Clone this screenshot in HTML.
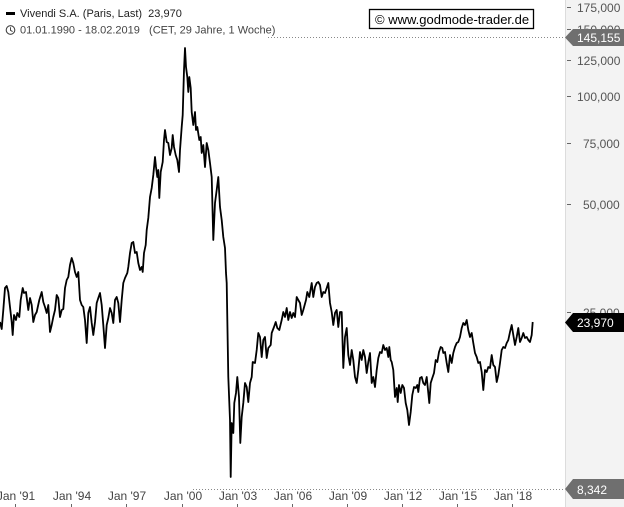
<!DOCTYPE html>
<html><head><meta charset="utf-8">
<style>
html,body{margin:0;padding:0;background:#fff;}
body{width:624px;height:507px;overflow:hidden;position:relative;font-family:"Liberation Sans",Arial,sans-serif;}
svg{position:absolute;left:0;top:0;}
</style></head>
<body>
<svg width="624" height="507" viewBox="0 0 624 507" xmlns="http://www.w3.org/2000/svg" font-family="Liberation Sans, Arial, sans-serif">
  <rect x="0" y="0" width="624" height="507" fill="#ffffff"/>
  <!-- right axis panel -->
  <rect x="565" y="0" width="59" height="507" fill="#f3f3f3"/>
  <line x1="565.5" y1="0" x2="565.5" y2="507" stroke="#dcdcdc" stroke-width="1"/>

  <!-- y ticks and labels -->
  <g stroke="#666" stroke-width="1">
    <line x1="567" y1="7.5" x2="571" y2="7.5"/>
    <line x1="567" y1="29.5" x2="571" y2="29.5"/>
    <line x1="567" y1="60.5" x2="571" y2="60.5"/>
    <line x1="567" y1="96.5" x2="571" y2="96.5"/>
    <line x1="567" y1="143.5" x2="571" y2="143.5"/>
    <line x1="567" y1="204.5" x2="571" y2="204.5"/>
    <line x1="567" y1="312.5" x2="571" y2="312.5"/>
  </g>
  <g fill="#555" font-size="12">
    <text x="577" y="12">175,000</text>
    <text x="577" y="34">150,000</text>
    <text x="577" y="65">125,000</text>
    <text x="577" y="101">100,000</text>
    <text x="583" y="148">75,000</text>
    <text x="583" y="209">50,000</text>
    <text x="583" y="317">25,000</text>
  </g>

  <!-- dotted reference lines -->
  <line x1="268" y1="37.5" x2="565" y2="37.5" stroke="#888" stroke-width="1" stroke-dasharray="1,2"/>
  <line x1="193" y1="489.5" x2="565" y2="489.5" stroke="#888" stroke-width="1" stroke-dasharray="1,2"/>

  <!-- value tags -->
  <polygon points="565,37.5 573,29 624,29 624,46 573,46" fill="#6f6f6f"/>
  <text x="577" y="42" fill="#fff" font-size="12">145,155</text>
  <polygon points="565,322.5 573,313 624,313 624,332 573,332" fill="#000"/>
  <text x="577" y="327" fill="#fff" font-size="12">23,970</text>
  <polygon points="565,489 573,479 624,479 624,499 573,499" fill="#6f6f6f"/>
  <text x="577" y="494" fill="#fff" font-size="12">8,342</text>

  <!-- x labels -->
  <g fill="#444" font-size="12" text-anchor="middle">
    <text x="16" y="500">Jan '91</text>
    <text x="72" y="500">Jan '94</text>
    <text x="127" y="500">Jan '97</text>
    <text x="183" y="500">Jan '00</text>
    <text x="238" y="500">Jan '03</text>
    <text x="293" y="500">Jan '06</text>
    <text x="348" y="500">Jan '09</text>
    <text x="403" y="500">Jan '12</text>
    <text x="458" y="500">Jan '15</text>
    <text x="513" y="500">Jan '18</text>
  </g>
  <g stroke="#666" stroke-width="1">
    <line x1="15.5" y1="504" x2="15.5" y2="507"/>
    <line x1="71.5" y1="504" x2="71.5" y2="507"/>
    <line x1="126.5" y1="504" x2="126.5" y2="507"/>
    <line x1="182.5" y1="504" x2="182.5" y2="507"/>
    <line x1="237.5" y1="504" x2="237.5" y2="507"/>
    <line x1="292.5" y1="504" x2="292.5" y2="507"/>
    <line x1="347.5" y1="504" x2="347.5" y2="507"/>
    <line x1="402.5" y1="504" x2="402.5" y2="507"/>
    <line x1="457.5" y1="504" x2="457.5" y2="507"/>
    <line x1="512.5" y1="504" x2="512.5" y2="507"/>
  </g>

  <!-- header -->
  <rect x="6" y="12" width="9" height="3" fill="#000"/>
  <text x="20" y="17" font-size="11" fill="#222" xml:space="preserve">Vivendi S.A. (Paris, Last)  23,970</text>
  <circle cx="10.5" cy="30" r="4.3" fill="none" stroke="#444" stroke-width="1.1"/>
  <polyline points="10.5,27.3 10.5,30.3 12.6,31.6" fill="none" stroke="#444" stroke-width="1"/>
  <text x="20" y="33.5" font-size="11" fill="#444" xml:space="preserve">01.01.1990 - 18.02.2019   (CET, 29 Jahre, 1 Woche)</text>

  <!-- watermark -->
  <rect x="369.5" y="9.5" width="164" height="19" fill="#fff" stroke="#000" stroke-width="1.3"/>
  <text x="375" y="24" font-size="13" fill="#000">© www.godmode-trader.de</text>

  <!-- series -->
  <polyline fill="none" stroke="#000" stroke-width="1.8" stroke-linejoin="round" points="0,322 1.7,329 3.3,310 5,288 6.7,286 8.3,292 10,307 11.7,322 12.7,335 14,315 16,320 17.3,313 19.3,317 20.7,300 22.7,288 24,293 26,292 28.3,310 30,298 31.7,305 33.3,322 35,315 36.7,312 39.3,300 41.7,292 43.3,302 45,307 46.7,313 48.3,305 50,332 51.7,325 53.3,317 55,310 56.7,295 58.3,298 60,317 61.7,310 63.3,309 65,288 66.7,280 68.3,277 70,265 71.7,258 73.3,263 75,272 76.7,277 78.3,272 80,300 81.7,305 83.3,307 85,320 86.7,343 88.3,313 90,307 91.7,323 93.3,335 95,322 96.7,303 98.3,298 100,293 101.7,305 103.3,325 105,348 106.7,325 108.3,318 110,308 111.7,313 113.3,323 115,300 116.7,297 118.3,303 120,322 121.7,300 123.3,283 125,278 127.3,273 128.3,267 130,253 131.7,243 133.3,242 135,253 136.7,252 138.3,263 140,270 141.7,267 142.7,272 144,253 145.7,245 146.7,230 148.3,218 150,197 151.7,188 153.3,175 155,157 156,167 157.3,177 158.3,170 159.3,198 160.7,172 162.7,162 164,140 165,130 166.7,142 168.3,143 170,155 171.7,148 172.7,135 174,147 175.7,155 177.3,160 179,172 180,150 181.7,127 182.7,115 184,70 185,48 186,67 187.3,77 188.3,92 189.3,77 190.7,88 191.7,112 193.3,125 195,112 196,130 197.3,127 199.3,140 200.7,137 201.7,153 203.3,145 205,167 206.7,143 208.3,150 210,163 211.7,177 213.3,240 215,203 216.7,190 218.3,177 220,207 221.7,220 223.3,237 225,248 226,273 226.7,283 228.3,377 230,420 230.7,477 231.7,423 233.3,433 234.3,403 236,393 237.3,377 239,397 240.3,443 241.7,417 243.3,403 245,383 246.7,387 248.3,402 250,383 251.7,377 252.7,362 255,363 256.7,350 258.3,333 260,337 261.7,357 263.3,340 265,337 266.7,358 268.3,348 270.7,345 271.7,333 274,327 275.7,322 277.3,328 279.3,330 281.7,320 283.3,312 285,317 286.7,308 288.3,320 290,312 291.7,318 293.3,313 295,317 296.7,297 298.3,300 300,303 301.7,315 303.3,310 306,300 307.3,292 309.3,297 311.7,283 313.3,297 315,287 316.7,283 318.3,282 320,285 321.7,297 323.3,292 325,293 326.7,288 328.3,283 330,303 331.7,312 333.3,325 335,313 336.7,310 338.3,327 340,312 341.7,312 343.3,368 345,337 346.7,328 348.3,355 350,365 351.7,350 353.3,360 355,377 356.7,383 358.3,370 360,352 361.7,360 363.3,350 365,357 366.7,373 368.3,362 370,353 371.7,383 373.3,377 375,387 376.7,370 378.3,358 380,352 381.7,353 383.3,345 385,350 386.7,348 388.3,357 389.3,347 390.7,360 391.7,362 393.3,370 395,397 396.7,388 397.7,402 399,385 400.7,393 402.3,385 404,388 405.7,403 407.3,410 409,425 410.7,412 412.3,395 414,387 415.7,388 417.3,385 418.3,392 420,378 421.7,377 423.3,383 425,385 426.7,377 428.3,393 429.3,403 430.7,383 432.3,378 434,373 435.7,360 437.3,362 439,352 440.7,347 442.3,348 443.3,353 445,352 446.7,363 448.3,372 450,355 451.7,363 453.3,353 455,347 456.7,343 458.3,342 460,337 461.7,328 463.3,323 465,325 466.7,320 468.3,330 470,337 471.7,333 473.3,343 475,353 476.7,357 478.3,363 480,362 481.7,372 483.3,390 485,370 486.7,372 488.3,367 490,368 491.7,355 493.3,365 495,367 496.7,382 498.3,375 500,363 501.7,350 503.3,347 505,348 506.7,343 508.3,340 510,332 511.7,325 513.3,335 515,345 516.7,337 518.3,328 520,342 521.7,338 523.3,333 525,338 526.7,337 528.3,340 530,342 531.7,335 532.7,322"/>
</svg>
</body></html>
